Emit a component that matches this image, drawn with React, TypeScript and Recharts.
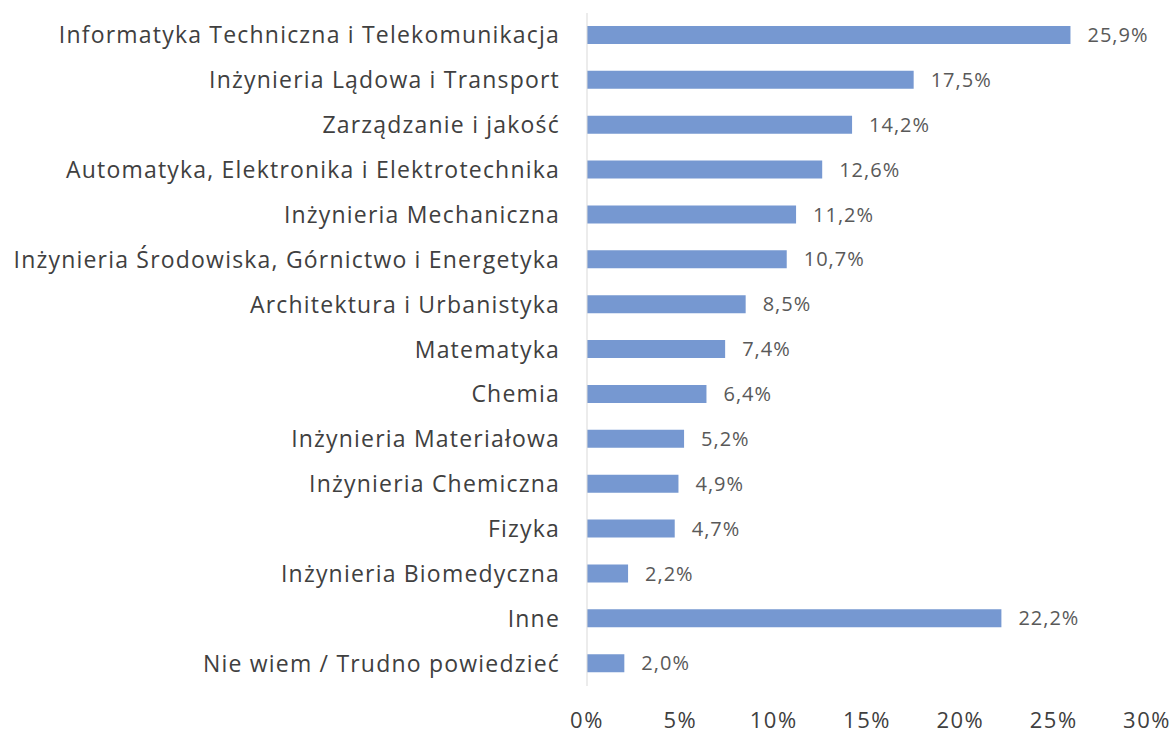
import React from 'react';
import { BarChart, Bar, XAxis, YAxis, LabelList } from 'recharts';

const categories = [
  'Informatyka Techniczna i Telekomunikacja',
  'Inżynieria Lądowa i Transport',
  'Zarządzanie i jakość',
  'Automatyka, Elektronika i Elektrotechnika',
  'Inżynieria Mechaniczna',
  'Inżynieria Środowiska, Górnictwo i Energetyka',
  'Architektura i Urbanistyka',
  'Matematyka',
  'Chemia',
  'Inżynieria Materiałowa',
  'Inżynieria Chemiczna',
  'Fizyka',
  'Inżynieria Biomedyczna',
  'Inne',
  'Nie wiem / Trudno powiedzieć',
];

const shares = [25.9, 17.5, 14.2, 12.6, 11.2, 10.7, 8.5, 7.4, 6.4, 5.2, 4.9, 4.7, 2.2, 22.2, 2.0];

const xTicks = [0, 5, 10, 15, 20, 25, 30];

const rows = categories.map((name, i) => ({ name, value: shares[i] }));

const FONT = '"Open Sans", "Noto Sans", sans-serif';
const TEXT = '#404040';

// category labels on the left, right aligned
const CategoryTick = (props: any) => {
  const { x, y, payload } = props;
  return (
    <text
      x={x - 19}
      y={y}
      dy={8}
      textAnchor="end"
      fontSize={23}
      letterSpacing={1.2}
      fill={TEXT}
      fontFamily={FONT}
    >
      {payload.value}
    </text>
  );
};

const fmtPct = (v: any) => `${Number(v).toFixed(1).replace('.', ',')}%`;

export default function App() {
  return (
    <div style={{ position: 'absolute', left: 0, top: 0, background: '#fff' }}>
      <BarChart
        width={1176}
        height={733}
        data={rows}
        layout="vertical"
        margin={{ top: 13, right: 29, bottom: 0, left: 0 }}
      >
        <XAxis
          type="number"
          domain={[0, 30]}
          ticks={xTicks}
          tickFormatter={(v) => `${v}%`}
          axisLine={false}
          tickLine={false}
          height={47}
          tick={{ fontSize: 22, fill: TEXT, fontFamily: FONT, dy: 18, letterSpacing: 1.5 }}
        />
        <YAxis
          type="category"
          dataKey="name"
          width={587}
          axisLine={{ stroke: '#d9d9d9' }}
          tickLine={false}
          interval={0}
          tick={<CategoryTick />}
        />
        <Bar dataKey="value" fill="#7698d1" barSize={18} isAnimationActive={false}>
          <LabelList
            dataKey="value"
            position="right"
            offset={17}
            formatter={fmtPct}
            style={{ fontSize: 20, fill: '#595959', fontFamily: FONT, letterSpacing: 1 }}
          />
        </Bar>
      </BarChart>
    </div>
  );
}
